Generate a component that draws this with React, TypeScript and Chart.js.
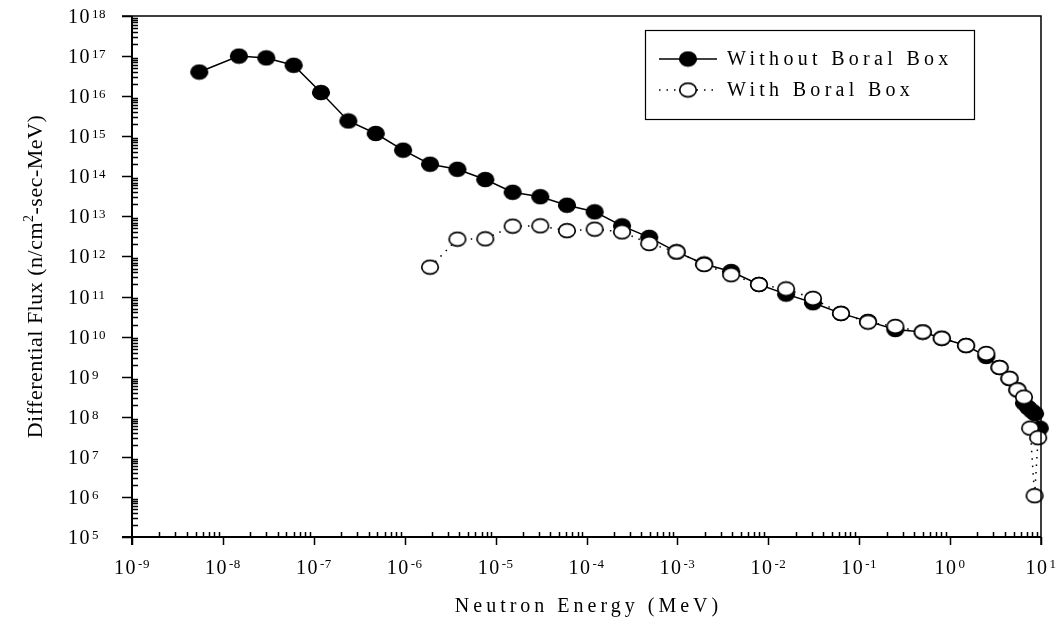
import React, { useEffect, useRef } from 'react';
import { Chart, registerables } from 'chart.js';
Chart.register(...registerables);

const withoutEnergy = [5.5e-9, 1.5e-8, 3.0e-8, 6.0e-8, 1.2e-7, 2.4e-7, 4.8e-7, 9.6e-7, 1.9e-6, 3.8e-6, 7.7e-6, 1.54e-5, 3.1e-5, 6.1e-5, 1.23e-4, 2.46e-4, 4.9e-4, 9.8e-4, 1.97e-3, 3.9e-3, 7.9e-3, 1.57e-2, 3.1e-2, 6.3e-2, 0.125, 0.25, 0.5, 0.81, 1.5, 2.5, 3.5, 4.5, 5.5, 6.5, 7.2, 7.9, 8.6, 9.7];
const withoutFlux = [4.0e16, 1.0e17, 9.0e16, 5.9e16, 1.23e16, 2.4e15, 1.17e15, 4.5e14, 2.0e14, 1.5e14, 8.3e13, 4.0e13, 3.1e13, 1.9e13, 1.3e13, 5.8e12, 3.0e12, 1.3e12, 6.5e11, 4.2e11, 2.0e11, 1.15e11, 7.0e10, 3.8e10, 2.4e10, 1.5e10, 1.3e10, 9.1e9, 6.0e9, 3.2e9, 1.7e9, 9.0e8, 4.7e8, 2.2e8, 1.7e8, 1.4e8, 1.2e8, 5.2e7];

const withEnergy = [1.9e-6, 3.8e-6, 7.7e-6, 1.54e-5, 3.1e-5, 6.1e-5, 1.23e-4, 2.46e-4, 4.9e-4, 9.8e-4, 1.97e-3, 3.9e-3, 7.9e-3, 1.57e-2, 3.1e-2, 6.3e-2, 0.125, 0.25, 0.5, 0.81, 1.5, 2.5, 3.5, 4.5, 5.5, 6.5, 7.6, 8.5, 9.3];
const withFlux = [5.4e11, 2.7e12, 2.75e12, 5.7e12, 5.8e12, 4.4e12, 4.8e12, 4.1e12, 2.1e12, 1.3e12, 6.3e11, 3.5e11, 2.0e11, 1.55e11, 9.0e10, 3.8e10, 2.3e10, 1.8e10, 1.3e10, 9.1e9, 6.0e9, 3.8e9, 1.7e9, 9.1e8, 4.7e8, 3.1e8, 5.2e7, 1.07e6, 3.0e7];

const xTickExponents = [-9, -8, -7, -6, -5, -4, -3, -2, -1, 0, 1];
const yTickExponents = [5, 6, 7, 8, 9, 10, 11, 12, 13, 14, 15, 16, 17, 18];

const seriesLabels = ['Without Boral Box', 'With Boral Box'];
const xTitle = 'Neutron Energy (MeV)';
const yTitleMain = 'Differential Flux (n/cm';
const yTitleSup = '2';
const yTitleEnd = '-sec-MeV)';

const FONT = '"Liberation Serif", "Times New Roman", serif';

function makeMarker(filled: boolean): HTMLCanvasElement {
  const c = document.createElement('canvas');
  c.width = 20;
  c.height = 17;
  const ctx = c.getContext('2d')!;
  ctx.beginPath();
  ctx.ellipse(10, 8.5, 8.3, 6.8, 0, 0, Math.PI * 2);
  ctx.fillStyle = filled ? '#000' : '#fff';
  ctx.fill();
  ctx.lineWidth = 1.7;
  ctx.strokeStyle = '#000';
  ctx.stroke();
  return c;
}

function drawPow(ctx: CanvasRenderingContext2D, exp: string, x: number, baseY: number, supY: number, align: 'left' | 'center') {
  ctx.font = `20px ${FONT}`;
  (ctx as any).letterSpacing = '1.5px';
  const bw = ctx.measureText('10').width;
  ctx.font = `13px ${FONT}`;
  (ctx as any).letterSpacing = '0.5px';
  const sw = ctx.measureText(exp).width;
  const total = bw + 1 + sw;
  const x0 = align === 'center' ? x - total / 2 : x;
  ctx.textAlign = 'left';
  ctx.textBaseline = 'alphabetic';
  ctx.font = `20px ${FONT}`;
  (ctx as any).letterSpacing = '1.5px';
  ctx.fillText('10', x0, baseY);
  ctx.font = `13px ${FONT}`;
  (ctx as any).letterSpacing = '0.5px';
  ctx.fillText(exp, x0 + bw + 1, supY);
  (ctx as any).letterSpacing = '0px';
}

const axesPlugin = {
  id: 'sigmaAxes',
  afterDraw(chart: any) {
    const ctx: CanvasRenderingContext2D = chart.ctx;
    const { left, right, top, bottom } = chart.chartArea;
    const xs = chart.scales.x;
    const ys = chart.scales.y;
    ctx.save();
    ctx.strokeStyle = '#000';
    ctx.fillStyle = '#000';
    // frame
    ctx.lineWidth = 1.5;
    ctx.beginPath();
    ctx.moveTo(left - 10, top);
    ctx.lineTo(right, top);
    ctx.lineTo(right, bottom + 8);
    ctx.stroke();
    ctx.lineWidth = 2;
    ctx.beginPath();
    ctx.moveTo(left, top);
    ctx.lineTo(left, bottom + 8);
    ctx.moveTo(left - 10, bottom);
    ctx.lineTo(right, bottom);
    ctx.stroke();
    // y ticks
    ctx.lineWidth = 1.5;
    ctx.beginPath();
    yTickExponents.forEach((e) => {
      const py = Math.round(ys.getPixelForValue(Math.pow(10, e))) + 0.5;
      ctx.moveTo(left - 10, py);
      ctx.lineTo(left, py);
      if (e < 18) {
        for (let m = 2; m <= 9; m++) {
          const pm = Math.round(ys.getPixelForValue(m * Math.pow(10, e))) + 0.5;
          ctx.moveTo(left, pm);
          ctx.lineTo(left + 6, pm);
        }
      }
    });
    // x ticks
    xTickExponents.forEach((e) => {
      const px = Math.round(xs.getPixelForValue(Math.pow(10, e))) + 0.5;
      ctx.moveTo(px, bottom);
      ctx.lineTo(px, bottom + 8);
      if (e < 1) {
        for (let m = 2; m <= 9; m++) {
          const pm = Math.round(xs.getPixelForValue(m * Math.pow(10, e))) + 0.5;
          ctx.moveTo(pm, bottom);
          ctx.lineTo(pm, bottom - 5);
        }
      }
    });
    ctx.stroke();
    // y labels
    yTickExponents.forEach((e) => {
      const py = ys.getPixelForValue(Math.pow(10, e));
      drawPow(ctx, String(e), 68, py + 7, py + 2, 'left');
    });
    // x labels
    xTickExponents.forEach((e) => {
      const px = xs.getPixelForValue(Math.pow(10, e));
      drawPow(ctx, e < 0 ? '-' + Math.abs(e) : String(e), px, bottom + 37, bottom + 31, 'center');
    });
    // x title
    ctx.font = `20px ${FONT}`;
    (ctx as any).letterSpacing = '4px';
    ctx.textAlign = 'center';
    ctx.textBaseline = 'alphabetic';
    ctx.fillText(xTitle, (left + right) / 2 + 2, 612);
    // y title with superscript
    ctx.save();
    ctx.translate(42, (top + bottom) / 2);
    ctx.rotate(-Math.PI / 2);
    (ctx as any).letterSpacing = '0.5px';
    ctx.textAlign = 'left';
    ctx.textBaseline = 'alphabetic';
    ctx.font = `22px ${FONT}`;
    const w1 = ctx.measureText(yTitleMain).width;
    const w3 = ctx.measureText(yTitleEnd).width;
    ctx.font = `14px ${FONT}`;
    const w2 = ctx.measureText(yTitleSup).width;
    const startX = -(w1 + w2 + w3) / 2;
    ctx.font = `22px ${FONT}`;
    ctx.fillText(yTitleMain, startX, 0);
    ctx.font = `14px ${FONT}`;
    ctx.fillText(yTitleSup, startX + w1, -9);
    ctx.font = `22px ${FONT}`;
    ctx.fillText(yTitleEnd, startX + w1 + w2, 0);
    ctx.restore();
    // legend
    const bx = 645, by = 30, bw = 329, bh = 89;
    ctx.lineWidth = 1.2;
    ctx.strokeRect(bx + 0.5, by + 0.5, bw, bh);
    const rows = [by + 29, by + 60];
    const datasets = chart.data.datasets;
    [1, 0].forEach((di, r) => {
      const ds = datasets[di];
      const ry = rows[r];
      ctx.save();
      ctx.lineWidth = ds.borderWidth;
      ctx.setLineDash(ds.borderDash || []);
      ctx.beginPath();
      ctx.moveTo(bx + 14, ry);
      ctx.lineTo(bx + 72, ry);
      ctx.stroke();
      ctx.restore();
      const img = ds.pointStyle as HTMLCanvasElement;
      ctx.drawImage(img, bx + 43 - img.width / 2, ry - img.height / 2);
      ctx.font = `20px ${FONT}`;
      (ctx as any).letterSpacing = '4.3px';
      ctx.textAlign = 'left';
      ctx.textBaseline = 'middle';
      ctx.fillText(ds.label, bx + 82, ry + 1);
    });
    ctx.restore();
  },
};

export default function App() {
  const ref = useRef<HTMLCanvasElement>(null);
  useEffect(() => {
    document.body.style.margin = '0';
    const filled = makeMarker(true);
    const open = makeMarker(false);
    const chart = new Chart(ref.current!, {
      type: 'line',
      data: {
        datasets: [
          {
            label: seriesLabels[1],
            data: withEnergy.map((x, i) => ({ x, y: withFlux[i] })),
            borderColor: '#000',
            borderWidth: 1.5,
            borderDash: [1.5, 6],
            pointStyle: open as any,
            showLine: true,
            fill: false,
            tension: 0,
            order: 1,
            clip: false as any,
          },
          {
            label: seriesLabels[0],
            data: withoutEnergy.map((x, i) => ({ x, y: withoutFlux[i] })),
            borderColor: '#000',
            borderWidth: 1.5,
            pointStyle: filled as any,
            showLine: true,
            fill: false,
            tension: 0,
            order: 2,
            clip: false as any,
          },
        ],
      },
      options: {
        animation: false,
        responsive: false,
        events: [],
        layout: { padding: { left: 0, top: 16, right: 19, bottom: 0 } },
        plugins: { legend: { display: false }, tooltip: { enabled: false } },
        scales: {
          x: {
            type: 'logarithmic',
            min: 1e-9,
            max: 10,
            grid: { display: false },
            border: { display: false },
            ticks: { display: false },
            afterFit: (s: any) => { s.height = 92; },
          },
          y: {
            type: 'logarithmic',
            min: 1e5,
            max: 1e18,
            grid: { display: false },
            border: { display: false },
            ticks: { display: false },
            afterFit: (s: any) => { s.width = 132; },
          },
        },
      },
      plugins: [axesPlugin],
    });
    return () => chart.destroy();
  }, []);
  return <canvas ref={ref} width={1060} height={629} style={{ display: 'block' }} />;
}
